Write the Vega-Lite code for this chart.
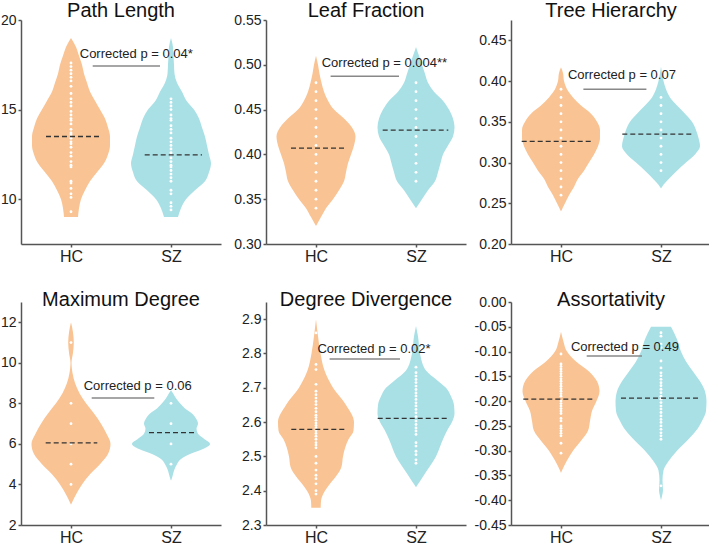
{
  "$schema": "https://vega.github.io/schema/vega-lite/v6.json",
  "padding": {"left": 0, "top": 0, "right": 0, "bottom": 0},
  "bounds": "flush",
  "columns": 3,
  "spacing": {"row": 58, "column": 45},
  "config": {
    "view": {"stroke": null},
    "font": "Liberation Sans",
    "axis": {"domainColor": "#555", "domainWidth": 1.5, "tickColor": "#555", "tickWidth": 1.5, "tickSize": 3, "labelFont": "Liberation Sans", "labelFontSize": 14, "labelColor": "#222", "grid": false, "labelPadding": 2, "title": null},
    "axisX": {"labelFontSize": 16, "labelPadding": 1},
    "title": {"font": "Liberation Sans", "fontSize": 20, "fontWeight": "normal", "color": "#111", "baseline": "alphabetic", "offset": 3}
  },
  "datasets": {
    "violin": [
      {"p":"PL","g":"HC","v":19,"w":0},{"p":"PL","g":"HC","v":18.5,"w":0.05},{"p":"PL","g":"HC","v":18,"w":0.08},{"p":"PL","g":"HC","v":17.5,"w":0.11},{"p":"PL","g":"HC","v":17,"w":0.13},{"p":"PL","g":"HC","v":16.5,"w":0.16},{"p":"PL","g":"HC","v":16,"w":0.19},{"p":"PL","g":"HC","v":15.5,"w":0.24},{"p":"PL","g":"HC","v":15,"w":0.29},{"p":"PL","g":"HC","v":14.5,"w":0.34},{"p":"PL","g":"HC","v":14,"w":0.37},{"p":"PL","g":"HC","v":13.5,"w":0.39},{"p":"PL","g":"HC","v":13,"w":0.39},{"p":"PL","g":"HC","v":12.5,"w":0.37},{"p":"PL","g":"HC","v":12,"w":0.33},{"p":"PL","g":"HC","v":11.5,"w":0.26},{"p":"PL","g":"HC","v":11,"w":0.19},{"p":"PL","g":"HC","v":10.5,"w":0.14},{"p":"PL","g":"HC","v":10,"w":0.1},{"p":"PL","g":"HC","v":9.5,"w":0.08},{"p":"PL","g":"HC","v":9,"w":0.07},
      {"p":"PL","g":"SZ","v":19,"w":0},{"p":"PL","g":"SZ","v":18.5,"w":0.02},{"p":"PL","g":"SZ","v":18,"w":0.025},{"p":"PL","g":"SZ","v":17.5,"w":0.03},{"p":"PL","g":"SZ","v":17,"w":0.035},{"p":"PL","g":"SZ","v":16.5,"w":0.06},{"p":"PL","g":"SZ","v":16,"w":0.11},{"p":"PL","g":"SZ","v":15.5,"w":0.155},{"p":"PL","g":"SZ","v":15,"w":0.23},{"p":"PL","g":"SZ","v":14.5,"w":0.28},{"p":"PL","g":"SZ","v":14,"w":0.31},{"p":"PL","g":"SZ","v":13.5,"w":0.34},{"p":"PL","g":"SZ","v":13,"w":0.36},{"p":"PL","g":"SZ","v":12.5,"w":0.38},{"p":"PL","g":"SZ","v":12,"w":0.4},{"p":"PL","g":"SZ","v":11.5,"w":0.38},{"p":"PL","g":"SZ","v":11,"w":0.34},{"p":"PL","g":"SZ","v":10.5,"w":0.24},{"p":"PL","g":"SZ","v":10,"w":0.15},{"p":"PL","g":"SZ","v":9.5,"w":0.1},{"p":"PL","g":"SZ","v":9,"w":0.07},
      {"p":"LF","g":"HC","v":0.51,"w":0},{"p":"LF","g":"HC","v":0.5,"w":0.02},{"p":"LF","g":"HC","v":0.49,"w":0.035},{"p":"LF","g":"HC","v":0.48,"w":0.055},{"p":"LF","g":"HC","v":0.47,"w":0.08},{"p":"LF","g":"HC","v":0.46,"w":0.12},{"p":"LF","g":"HC","v":0.45,"w":0.18},{"p":"LF","g":"HC","v":0.44,"w":0.28},{"p":"LF","g":"HC","v":0.43,"w":0.36},{"p":"LF","g":"HC","v":0.42,"w":0.395},{"p":"LF","g":"HC","v":0.41,"w":0.38},{"p":"LF","g":"HC","v":0.4,"w":0.35},{"p":"LF","g":"HC","v":0.39,"w":0.32},{"p":"LF","g":"HC","v":0.38,"w":0.3},{"p":"LF","g":"HC","v":0.37,"w":0.28},{"p":"LF","g":"HC","v":0.36,"w":0.23},{"p":"LF","g":"HC","v":0.35,"w":0.17},{"p":"LF","g":"HC","v":0.34,"w":0.1},{"p":"LF","g":"HC","v":0.33,"w":0.05},{"p":"LF","g":"HC","v":0.32,"w":0},
      {"p":"LF","g":"SZ","v":0.52,"w":0},{"p":"LF","g":"SZ","v":0.51,"w":0.03},{"p":"LF","g":"SZ","v":0.5,"w":0.06},{"p":"LF","g":"SZ","v":0.49,"w":0.09},{"p":"LF","g":"SZ","v":0.48,"w":0.12},{"p":"LF","g":"SZ","v":0.47,"w":0.18},{"p":"LF","g":"SZ","v":0.46,"w":0.27},{"p":"LF","g":"SZ","v":0.45,"w":0.33},{"p":"LF","g":"SZ","v":0.44,"w":0.37},{"p":"LF","g":"SZ","v":0.43,"w":0.385},{"p":"LF","g":"SZ","v":0.42,"w":0.37},{"p":"LF","g":"SZ","v":0.41,"w":0.32},{"p":"LF","g":"SZ","v":0.4,"w":0.27},{"p":"LF","g":"SZ","v":0.39,"w":0.245},{"p":"LF","g":"SZ","v":0.38,"w":0.22},{"p":"LF","g":"SZ","v":0.37,"w":0.19},{"p":"LF","g":"SZ","v":0.36,"w":0.12},{"p":"LF","g":"SZ","v":0.35,"w":0.06},{"p":"LF","g":"SZ","v":0.34,"w":0},
      {"p":"TH","g":"HC","v":0.417,"w":0},{"p":"TH","g":"HC","v":0.41,"w":0.02},{"p":"TH","g":"HC","v":0.4,"w":0.03},{"p":"TH","g":"HC","v":0.39,"w":0.06},{"p":"TH","g":"HC","v":0.38,"w":0.12},{"p":"TH","g":"HC","v":0.37,"w":0.2},{"p":"TH","g":"HC","v":0.36,"w":0.3},{"p":"TH","g":"HC","v":0.35,"w":0.36},{"p":"TH","g":"HC","v":0.34,"w":0.39},{"p":"TH","g":"HC","v":0.33,"w":0.39},{"p":"TH","g":"HC","v":0.32,"w":0.37},{"p":"TH","g":"HC","v":0.31,"w":0.33},{"p":"TH","g":"HC","v":0.3,"w":0.28},{"p":"TH","g":"HC","v":0.29,"w":0.23},{"p":"TH","g":"HC","v":0.28,"w":0.17},{"p":"TH","g":"HC","v":0.27,"w":0.13},{"p":"TH","g":"HC","v":0.26,"w":0.08},{"p":"TH","g":"HC","v":0.25,"w":0.04},{"p":"TH","g":"HC","v":0.24,"w":0},
      {"p":"TH","g":"SZ","v":0.418,"w":0},{"p":"TH","g":"SZ","v":0.41,"w":0.01},{"p":"TH","g":"SZ","v":0.4,"w":0.025},{"p":"TH","g":"SZ","v":0.39,"w":0.05},{"p":"TH","g":"SZ","v":0.38,"w":0.09},{"p":"TH","g":"SZ","v":0.37,"w":0.16},{"p":"TH","g":"SZ","v":0.36,"w":0.24},{"p":"TH","g":"SZ","v":0.35,"w":0.31},{"p":"TH","g":"SZ","v":0.34,"w":0.35},{"p":"TH","g":"SZ","v":0.33,"w":0.375},{"p":"TH","g":"SZ","v":0.32,"w":0.39},{"p":"TH","g":"SZ","v":0.31,"w":0.34},{"p":"TH","g":"SZ","v":0.3,"w":0.25},{"p":"TH","g":"SZ","v":0.29,"w":0.16},{"p":"TH","g":"SZ","v":0.28,"w":0.08},{"p":"TH","g":"SZ","v":0.27,"w":0.01},{"p":"TH","g":"SZ","v":0.268,"w":0},
      {"p":"MD","g":"HC","v":12,"w":0},{"p":"MD","g":"HC","v":11.5,"w":0.02},{"p":"MD","g":"HC","v":11,"w":0.028},{"p":"MD","g":"HC","v":10.5,"w":0.02},{"p":"MD","g":"HC","v":10,"w":0.005},{"p":"MD","g":"HC","v":9.75,"w":0.008},{"p":"MD","g":"HC","v":9.5,"w":0.015},{"p":"MD","g":"HC","v":9,"w":0.04},{"p":"MD","g":"HC","v":8.5,"w":0.085},{"p":"MD","g":"HC","v":8,"w":0.15},{"p":"MD","g":"HC","v":7.5,"w":0.23},{"p":"MD","g":"HC","v":7,"w":0.3},{"p":"MD","g":"HC","v":6.5,"w":0.355},{"p":"MD","g":"HC","v":6,"w":0.395},{"p":"MD","g":"HC","v":5.5,"w":0.37},{"p":"MD","g":"HC","v":5,"w":0.29},{"p":"MD","g":"HC","v":4.5,"w":0.19},{"p":"MD","g":"HC","v":4,"w":0.11},{"p":"MD","g":"HC","v":3.5,"w":0.05},{"p":"MD","g":"HC","v":3,"w":0},
      {"p":"MD","g":"SZ","v":8.65,"w":0},{"p":"MD","g":"SZ","v":8.5,"w":0.02},{"p":"MD","g":"SZ","v":8.25,"w":0.05},{"p":"MD","g":"SZ","v":8,"w":0.09},{"p":"MD","g":"SZ","v":7.75,"w":0.14},{"p":"MD","g":"SZ","v":7.5,"w":0.21},{"p":"MD","g":"SZ","v":7.25,"w":0.25},{"p":"MD","g":"SZ","v":7,"w":0.27},{"p":"MD","g":"SZ","v":6.75,"w":0.255},{"p":"MD","g":"SZ","v":6.5,"w":0.27},{"p":"MD","g":"SZ","v":6.25,"w":0.33},{"p":"MD","g":"SZ","v":6,"w":0.39},{"p":"MD","g":"SZ","v":5.75,"w":0.32},{"p":"MD","g":"SZ","v":5.5,"w":0.19},{"p":"MD","g":"SZ","v":5.25,"w":0.1},{"p":"MD","g":"SZ","v":5,"w":0.06},{"p":"MD","g":"SZ","v":4.75,"w":0.035},{"p":"MD","g":"SZ","v":4.5,"w":0.02},{"p":"MD","g":"SZ","v":4.25,"w":0.005},{"p":"MD","g":"SZ","v":4.2,"w":0},
      {"p":"DD","g":"HC","v":2.9,"w":0},{"p":"DD","g":"HC","v":2.85,"w":0.02},{"p":"DD","g":"HC","v":2.8,"w":0.045},{"p":"DD","g":"HC","v":2.75,"w":0.085},{"p":"DD","g":"HC","v":2.7,"w":0.17},{"p":"DD","g":"HC","v":2.65,"w":0.3},{"p":"DD","g":"HC","v":2.6,"w":0.38},{"p":"DD","g":"HC","v":2.575,"w":0.375},{"p":"DD","g":"HC","v":2.55,"w":0.325},{"p":"DD","g":"HC","v":2.5,"w":0.27},{"p":"DD","g":"HC","v":2.47,"w":0.255},{"p":"DD","g":"HC","v":2.45,"w":0.22},{"p":"DD","g":"HC","v":2.42,"w":0.14},{"p":"DD","g":"HC","v":2.4,"w":0.09},{"p":"DD","g":"HC","v":2.37,"w":0.05},{"p":"DD","g":"HC","v":2.35,"w":0.047},
      {"p":"DD","g":"SZ","v":2.88,"w":0},{"p":"DD","g":"SZ","v":2.85,"w":0.02},{"p":"DD","g":"SZ","v":2.8,"w":0.04},{"p":"DD","g":"SZ","v":2.75,"w":0.1},{"p":"DD","g":"SZ","v":2.72,"w":0.22},{"p":"DD","g":"SZ","v":2.7,"w":0.3},{"p":"DD","g":"SZ","v":2.675,"w":0.35},{"p":"DD","g":"SZ","v":2.65,"w":0.38},{"p":"DD","g":"SZ","v":2.625,"w":0.385},{"p":"DD","g":"SZ","v":2.6,"w":0.36},{"p":"DD","g":"SZ","v":2.575,"w":0.31},{"p":"DD","g":"SZ","v":2.55,"w":0.27},{"p":"DD","g":"SZ","v":2.5,"w":0.2},{"p":"DD","g":"SZ","v":2.45,"w":0.09},{"p":"DD","g":"SZ","v":2.425,"w":0.035},{"p":"DD","g":"SZ","v":2.41,"w":0},
      {"p":"AS","g":"HC","v":-0.06,"w":0},{"p":"AS","g":"HC","v":-0.08,"w":0.025},{"p":"AS","g":"HC","v":-0.1,"w":0.06},{"p":"AS","g":"HC","v":-0.12,"w":0.15},{"p":"AS","g":"HC","v":-0.14,"w":0.28},{"p":"AS","g":"HC","v":-0.16,"w":0.36},{"p":"AS","g":"HC","v":-0.18,"w":0.385},{"p":"AS","g":"HC","v":-0.2,"w":0.355},{"p":"AS","g":"HC","v":-0.22,"w":0.31},{"p":"AS","g":"HC","v":-0.24,"w":0.29},{"p":"AS","g":"HC","v":-0.26,"w":0.27},{"p":"AS","g":"HC","v":-0.28,"w":0.2},{"p":"AS","g":"HC","v":-0.3,"w":0.12},{"p":"AS","g":"HC","v":-0.32,"w":0.06},{"p":"AS","g":"HC","v":-0.34,"w":0.01},{"p":"AS","g":"HC","v":-0.345,"w":0},
      {"p":"AS","g":"SZ","v":-0.05,"w":0.1},{"p":"AS","g":"SZ","v":-0.075,"w":0.16},{"p":"AS","g":"SZ","v":-0.1,"w":0.2},{"p":"AS","g":"SZ","v":-0.12,"w":0.25},{"p":"AS","g":"SZ","v":-0.14,"w":0.32},{"p":"AS","g":"SZ","v":-0.16,"w":0.39},{"p":"AS","g":"SZ","v":-0.18,"w":0.44},{"p":"AS","g":"SZ","v":-0.2,"w":0.455},{"p":"AS","g":"SZ","v":-0.22,"w":0.45},{"p":"AS","g":"SZ","v":-0.24,"w":0.41},{"p":"AS","g":"SZ","v":-0.26,"w":0.35},{"p":"AS","g":"SZ","v":-0.28,"w":0.26},{"p":"AS","g":"SZ","v":-0.3,"w":0.16},{"p":"AS","g":"SZ","v":-0.32,"w":0.08},{"p":"AS","g":"SZ","v":-0.34,"w":0.025},{"p":"AS","g":"SZ","v":-0.36,"w":0.015},{"p":"AS","g":"SZ","v":-0.38,"w":0.02},{"p":"AS","g":"SZ","v":-0.39,"w":0.012},{"p":"AS","g":"SZ","v":-0.4,"w":0}
    ],
    "dots": [
      {"p":"PL","g":"HC","v":17.6},{"p":"PL","g":"HC","v":17.4},{"p":"PL","g":"HC","v":17.2},{"p":"PL","g":"HC","v":17.0},{"p":"PL","g":"HC","v":16.8},{"p":"PL","g":"HC","v":16.6},{"p":"PL","g":"HC","v":16.3},{"p":"PL","g":"HC","v":15.9},{"p":"PL","g":"HC","v":15.6},{"p":"PL","g":"HC","v":15.4},{"p":"PL","g":"HC","v":15.2},{"p":"PL","g":"HC","v":14.9},{"p":"PL","g":"HC","v":14.7},{"p":"PL","g":"HC","v":14.5},{"p":"PL","g":"HC","v":14.4},{"p":"PL","g":"HC","v":14.2},{"p":"PL","g":"HC","v":13.9},{"p":"PL","g":"HC","v":13.7},{"p":"PL","g":"HC","v":13.6},{"p":"PL","g":"HC","v":13.4},{"p":"PL","g":"HC","v":13.2},{"p":"PL","g":"HC","v":13.1},{"p":"PL","g":"HC","v":12.9},{"p":"PL","g":"HC","v":12.6},{"p":"PL","g":"HC","v":12.4},{"p":"PL","g":"HC","v":12.1},{"p":"PL","g":"HC","v":11.9},{"p":"PL","g":"HC","v":11.8},{"p":"PL","g":"HC","v":11.0},{"p":"PL","g":"HC","v":10.9},{"p":"PL","g":"HC","v":10.6},{"p":"PL","g":"HC","v":10.3},{"p":"PL","g":"HC","v":10.1},{"p":"PL","g":"HC","v":9.3},
      {"p":"PL","g":"SZ","v":15.6},{"p":"PL","g":"SZ","v":15.4},{"p":"PL","g":"SZ","v":15.2},{"p":"PL","g":"SZ","v":15.0},{"p":"PL","g":"SZ","v":14.7},{"p":"PL","g":"SZ","v":14.5},{"p":"PL","g":"SZ","v":14.4},{"p":"PL","g":"SZ","v":14.1},{"p":"PL","g":"SZ","v":13.9},{"p":"PL","g":"SZ","v":13.7},{"p":"PL","g":"SZ","v":13.4},{"p":"PL","g":"SZ","v":13.2},{"p":"PL","g":"SZ","v":13.0},{"p":"PL","g":"SZ","v":12.8},{"p":"PL","g":"SZ","v":12.6},{"p":"PL","g":"SZ","v":12.5},{"p":"PL","g":"SZ","v":12.3},{"p":"PL","g":"SZ","v":12.1},{"p":"PL","g":"SZ","v":11.9},{"p":"PL","g":"SZ","v":11.8},{"p":"PL","g":"SZ","v":11.6},{"p":"PL","g":"SZ","v":11.4},{"p":"PL","g":"SZ","v":11.2},{"p":"PL","g":"SZ","v":11.0},{"p":"PL","g":"SZ","v":10.5},{"p":"PL","g":"SZ","v":10.3},{"p":"PL","g":"SZ","v":9.8},{"p":"PL","g":"SZ","v":9.6},{"p":"PL","g":"SZ","v":9.4},
      {"p":"LF","g":"HC","v":0.34},{"p":"LF","g":"HC","v":0.35},{"p":"LF","g":"HC","v":0.36},{"p":"LF","g":"HC","v":0.37},{"p":"LF","g":"HC","v":0.38},{"p":"LF","g":"HC","v":0.39},{"p":"LF","g":"HC","v":0.40},{"p":"LF","g":"HC","v":0.41},{"p":"LF","g":"HC","v":0.42},{"p":"LF","g":"HC","v":0.43},{"p":"LF","g":"HC","v":0.44},{"p":"LF","g":"HC","v":0.45},{"p":"LF","g":"HC","v":0.46},{"p":"LF","g":"HC","v":0.47},{"p":"LF","g":"HC","v":0.48},
      {"p":"LF","g":"SZ","v":0.37},{"p":"LF","g":"SZ","v":0.38},{"p":"LF","g":"SZ","v":0.39},{"p":"LF","g":"SZ","v":0.40},{"p":"LF","g":"SZ","v":0.41},{"p":"LF","g":"SZ","v":0.42},{"p":"LF","g":"SZ","v":0.43},{"p":"LF","g":"SZ","v":0.44},{"p":"LF","g":"SZ","v":0.45},{"p":"LF","g":"SZ","v":0.46},{"p":"LF","g":"SZ","v":0.47},{"p":"LF","g":"SZ","v":0.48},
      {"p":"TH","g":"HC","v":0.26},{"p":"TH","g":"HC","v":0.27},{"p":"TH","g":"HC","v":0.28},{"p":"TH","g":"HC","v":0.29},{"p":"TH","g":"HC","v":0.30},{"p":"TH","g":"HC","v":0.31},{"p":"TH","g":"HC","v":0.32},{"p":"TH","g":"HC","v":0.33},{"p":"TH","g":"HC","v":0.34},{"p":"TH","g":"HC","v":0.35},{"p":"TH","g":"HC","v":0.36},{"p":"TH","g":"HC","v":0.37},{"p":"TH","g":"HC","v":0.38},{"p":"TH","g":"HC","v":0.39},
      {"p":"TH","g":"SZ","v":0.29},{"p":"TH","g":"SZ","v":0.30},{"p":"TH","g":"SZ","v":0.31},{"p":"TH","g":"SZ","v":0.32},{"p":"TH","g":"SZ","v":0.33},{"p":"TH","g":"SZ","v":0.34},{"p":"TH","g":"SZ","v":0.35},{"p":"TH","g":"SZ","v":0.36},{"p":"TH","g":"SZ","v":0.37},{"p":"TH","g":"SZ","v":0.38},
      {"p":"MD","g":"HC","v":11},{"p":"MD","g":"HC","v":8},{"p":"MD","g":"HC","v":7},{"p":"MD","g":"HC","v":6},{"p":"MD","g":"HC","v":5},{"p":"MD","g":"HC","v":4},
      {"p":"MD","g":"SZ","v":8},{"p":"MD","g":"SZ","v":7},{"p":"MD","g":"SZ","v":6},{"p":"MD","g":"SZ","v":5},
      {"p":"DD","g":"HC","v":2.86},{"p":"DD","g":"HC","v":2.768},{"p":"DD","g":"HC","v":2.753},{"p":"DD","g":"HC","v":2.71},{"p":"DD","g":"HC","v":2.69},{"p":"DD","g":"HC","v":2.68},{"p":"DD","g":"HC","v":2.67},{"p":"DD","g":"HC","v":2.66},{"p":"DD","g":"HC","v":2.651},{"p":"DD","g":"HC","v":2.64},{"p":"DD","g":"HC","v":2.63},{"p":"DD","g":"HC","v":2.62},{"p":"DD","g":"HC","v":2.613},{"p":"DD","g":"HC","v":2.605},{"p":"DD","g":"HC","v":2.597},{"p":"DD","g":"HC","v":2.59},{"p":"DD","g":"HC","v":2.583},{"p":"DD","g":"HC","v":2.575},{"p":"DD","g":"HC","v":2.567},{"p":"DD","g":"HC","v":2.559},{"p":"DD","g":"HC","v":2.55},{"p":"DD","g":"HC","v":2.54},{"p":"DD","g":"HC","v":2.533},{"p":"DD","g":"HC","v":2.525},{"p":"DD","g":"HC","v":2.5},{"p":"DD","g":"HC","v":2.48},{"p":"DD","g":"HC","v":2.46},{"p":"DD","g":"HC","v":2.445},{"p":"DD","g":"HC","v":2.435},{"p":"DD","g":"HC","v":2.42},{"p":"DD","g":"HC","v":2.4},{"p":"DD","g":"HC","v":2.39},
      {"p":"DD","g":"SZ","v":2.76},{"p":"DD","g":"SZ","v":2.744},{"p":"DD","g":"SZ","v":2.734},{"p":"DD","g":"SZ","v":2.724},{"p":"DD","g":"SZ","v":2.715},{"p":"DD","g":"SZ","v":2.705},{"p":"DD","g":"SZ","v":2.695},{"p":"DD","g":"SZ","v":2.685},{"p":"DD","g":"SZ","v":2.676},{"p":"DD","g":"SZ","v":2.666},{"p":"DD","g":"SZ","v":2.656},{"p":"DD","g":"SZ","v":2.647},{"p":"DD","g":"SZ","v":2.637},{"p":"DD","g":"SZ","v":2.627},{"p":"DD","g":"SZ","v":2.616},{"p":"DD","g":"SZ","v":2.603},{"p":"DD","g":"SZ","v":2.593},{"p":"DD","g":"SZ","v":2.583},{"p":"DD","g":"SZ","v":2.574},{"p":"DD","g":"SZ","v":2.564},{"p":"DD","g":"SZ","v":2.54},{"p":"DD","g":"SZ","v":2.53},{"p":"DD","g":"SZ","v":2.515},{"p":"DD","g":"SZ","v":2.505},{"p":"DD","g":"SZ","v":2.49},{"p":"DD","g":"SZ","v":2.48},
      {"p":"AS","g":"HC","v":-0.105},{"p":"AS","g":"HC","v":-0.125},{"p":"AS","g":"HC","v":-0.13},{"p":"AS","g":"HC","v":-0.135},{"p":"AS","g":"HC","v":-0.14},{"p":"AS","g":"HC","v":-0.145},{"p":"AS","g":"HC","v":-0.15},{"p":"AS","g":"HC","v":-0.155},{"p":"AS","g":"HC","v":-0.16},{"p":"AS","g":"HC","v":-0.165},{"p":"AS","g":"HC","v":-0.17},{"p":"AS","g":"HC","v":-0.175},{"p":"AS","g":"HC","v":-0.18},{"p":"AS","g":"HC","v":-0.185},{"p":"AS","g":"HC","v":-0.19},{"p":"AS","g":"HC","v":-0.2},{"p":"AS","g":"HC","v":-0.205},{"p":"AS","g":"HC","v":-0.21},{"p":"AS","g":"HC","v":-0.215},{"p":"AS","g":"HC","v":-0.22},{"p":"AS","g":"HC","v":-0.225},{"p":"AS","g":"HC","v":-0.235},{"p":"AS","g":"HC","v":-0.24},{"p":"AS","g":"HC","v":-0.25},{"p":"AS","g":"HC","v":-0.255},{"p":"AS","g":"HC","v":-0.26},{"p":"AS","g":"HC","v":-0.265},{"p":"AS","g":"HC","v":-0.27},{"p":"AS","g":"HC","v":-0.285},{"p":"AS","g":"HC","v":-0.305},
      {"p":"AS","g":"SZ","v":-0.062},{"p":"AS","g":"SZ","v":-0.069},{"p":"AS","g":"SZ","v":-0.085},{"p":"AS","g":"SZ","v":-0.092},{"p":"AS","g":"SZ","v":-0.119},{"p":"AS","g":"SZ","v":-0.133},{"p":"AS","g":"SZ","v":-0.143},{"p":"AS","g":"SZ","v":-0.149},{"p":"AS","g":"SZ","v":-0.156},{"p":"AS","g":"SZ","v":-0.163},{"p":"AS","g":"SZ","v":-0.169},{"p":"AS","g":"SZ","v":-0.176},{"p":"AS","g":"SZ","v":-0.183},{"p":"AS","g":"SZ","v":-0.19},{"p":"AS","g":"SZ","v":-0.196},{"p":"AS","g":"SZ","v":-0.203},{"p":"AS","g":"SZ","v":-0.21},{"p":"AS","g":"SZ","v":-0.216},{"p":"AS","g":"SZ","v":-0.223},{"p":"AS","g":"SZ","v":-0.23},{"p":"AS","g":"SZ","v":-0.237},{"p":"AS","g":"SZ","v":-0.243},{"p":"AS","g":"SZ","v":-0.25},{"p":"AS","g":"SZ","v":-0.257},{"p":"AS","g":"SZ","v":-0.264},{"p":"AS","g":"SZ","v":-0.27},{"p":"AS","g":"SZ","v":-0.277},{"p":"AS","g":"SZ","v":-0.371}
    ],
    "med": [
      {"p":"PL","g":"HC","v":13.5,"a":-0.25,"b":0.31},{"p":"PL","g":"SZ","v":12.47,"a":-0.263,"b":0.31},
      {"p":"LF","g":"HC","v":0.407,"a":-0.25,"b":0.307},{"p":"LF","g":"SZ","v":0.427,"a":-0.333,"b":0.323},
      {"p":"TH","g":"HC","v":0.326,"a":-0.393,"b":0.313},{"p":"TH","g":"SZ","v":0.335,"a":-0.387,"b":0.313},
      {"p":"MD","g":"HC","v":6.05,"a":-0.253,"b":0.263},{"p":"MD","g":"SZ","v":6.56,"a":-0.22,"b":0.247},
      {"p":"DD","g":"HC","v":2.579,"a":-0.247,"b":0.31},{"p":"DD","g":"SZ","v":2.611,"a":-0.383,"b":0.323},
      {"p":"AS","g":"HC","v":-0.196,"a":-0.377,"b":0.313},{"p":"AS","g":"SZ","v":-0.194,"a":-0.4,"b":0.4}
    ],
    "annt": [
      {"p":"PL","x":1.653,"v":17.86,"label":"Corrected p = 0.04*"},
      {"p":"LF","x":1.684,"v":0.498,"label":"Corrected p = 0.004**"},
      {"p":"TH","x":1.609,"v":0.403,"label":"Corrected p = 0.07"},
      {"p":"MD","x":1.667,"v":8.64,"label":"Corrected p = 0.06"},
      {"p":"DD","x":1.58,"v":2.802,"label":"Corrected p = 0.02*"},
      {"p":"AS","x":1.639,"v":-0.099,"label":"Corrected p = 0.49"}
    ],
    "annl": [
      {"p":"PL","x":1.217,"x2":1.89,"v":17.43},
      {"p":"LF","x":1.146,"x2":1.83,"v":0.4872},
      {"p":"TH","x":1.224,"x2":1.854,"v":0.39},
      {"p":"MD","x":1.207,"x2":1.833,"v":8.26},
      {"p":"DD","x":1.136,"x2":1.84,"v":2.784},
      {"p":"AS","x":1.257,"x2":1.81,"v":-0.109}
    ]
  },
  "concat": [
    {
      "width": 200, "height": 224,
      "title": {"text": "Path Length", "offset": -7.7},
      "encoding": {
        "x": {"field": "x", "type": "quantitative", "stack": null, "scale": {"domain": [0.5, 2.5], "nice": false, "zero": false}, "axis": {"values": [1, 2], "labelExpr": "datum.value == 1 ? 'HC' : 'SZ'"}},
        "y": {"field": "v", "type": "quantitative", "scale": {"domain": [7.5, 20], "nice": false, "zero": false}, "axis": {"values": [10, 15, 20], "format": "d"}}
      },
      "layer": [
        {"data": {"name": "violin"}, "transform": [{"filter": "datum.p == 'PL'"}, {"calculate": "(datum.g == 'HC' ? 1 : 2) - datum.w", "as": "x"}, {"calculate": "(datum.g == 'HC' ? 1 : 2) + datum.w", "as": "x2"}], "mark": {"type": "area", "orient": "horizontal", "interpolate": "monotone", "opacity": 1}, "encoding": {"x2": {"field": "x2"}, "color": {"field": "g", "type": "nominal", "scale": {"domain": ["HC", "SZ"], "range": ["#F9C393", "#A9E0E6"]}, "legend": null}}},
        {"data": {"name": "dots"}, "transform": [{"filter": "datum.p == 'PL'"}, {"calculate": "datum.g == 'HC' ? 1 : 2", "as": "x"}], "mark": {"type": "circle", "size": 8, "color": "white", "opacity": 1}},
        {"data": {"name": "med"}, "transform": [{"filter": "datum.p == 'PL'"}, {"calculate": "(datum.g == 'HC' ? 1 : 2) + datum.a", "as": "x"}, {"calculate": "(datum.g == 'HC' ? 1 : 2) + datum.b", "as": "x2"}], "mark": {"type": "rule", "color": "#333", "strokeWidth": 1.3, "strokeDash": [5, 3]}, "encoding": {"x2": {"field": "x2"}}},
        {"data": {"name": "annl"}, "transform": [{"filter": "datum.p == 'PL'"}], "mark": {"type": "rule", "color": "#888", "strokeWidth": 1.5}, "encoding": {"x2": {"field": "x2"}}},
        {"data": {"name": "annt"}, "transform": [{"filter": "datum.p == 'PL'"}], "mark": {"type": "text", "fontSize": 13, "color": "#222", "align": "center", "baseline": "alphabetic"}, "encoding": {"text": {"field": "label"}}}
      ]
    },
    {
      "width": 200, "height": 224,
      "title": {"text": "Leaf Fraction", "offset": -7.7},
      "encoding": {
        "x": {"field": "x", "type": "quantitative", "stack": null, "scale": {"domain": [0.5, 2.5], "nice": false, "zero": false}, "axis": {"values": [1, 2], "labelExpr": "datum.value == 1 ? 'HC' : 'SZ'"}},
        "y": {"field": "v", "type": "quantitative", "scale": {"domain": [0.3, 0.55], "nice": false, "zero": false}, "axis": {"values": [0.3, 0.35, 0.4, 0.45, 0.5, 0.55], "format": ".2f"}}
      },
      "layer": [
        {"data": {"name": "violin"}, "transform": [{"filter": "datum.p == 'LF'"}, {"calculate": "(datum.g == 'HC' ? 1 : 2) - datum.w", "as": "x"}, {"calculate": "(datum.g == 'HC' ? 1 : 2) + datum.w", "as": "x2"}], "mark": {"type": "area", "orient": "horizontal", "interpolate": "monotone", "opacity": 1}, "encoding": {"x2": {"field": "x2"}, "color": {"field": "g", "type": "nominal", "scale": {"domain": ["HC", "SZ"], "range": ["#F9C393", "#A9E0E6"]}, "legend": null}}},
        {"data": {"name": "dots"}, "transform": [{"filter": "datum.p == 'LF'"}, {"calculate": "datum.g == 'HC' ? 1 : 2", "as": "x"}], "mark": {"type": "circle", "size": 8, "color": "white", "opacity": 1}},
        {"data": {"name": "med"}, "transform": [{"filter": "datum.p == 'LF'"}, {"calculate": "(datum.g == 'HC' ? 1 : 2) + datum.a", "as": "x"}, {"calculate": "(datum.g == 'HC' ? 1 : 2) + datum.b", "as": "x2"}], "mark": {"type": "rule", "color": "#333", "strokeWidth": 1.3, "strokeDash": [5, 3]}, "encoding": {"x2": {"field": "x2"}}},
        {"data": {"name": "annl"}, "transform": [{"filter": "datum.p == 'LF'"}], "mark": {"type": "rule", "color": "#888", "strokeWidth": 1.5}, "encoding": {"x2": {"field": "x2"}}},
        {"data": {"name": "annt"}, "transform": [{"filter": "datum.p == 'LF'"}], "mark": {"type": "text", "fontSize": 13, "color": "#222", "align": "center", "baseline": "alphabetic"}, "encoding": {"text": {"field": "label"}}}
      ]
    },
    {
      "width": 200, "height": 224,
      "title": {"text": "Tree Hierarchy", "offset": -0.7},
      "encoding": {
        "x": {"field": "x", "type": "quantitative", "stack": null, "scale": {"domain": [0.5, 2.5], "nice": false, "zero": false}, "axis": {"values": [1, 2], "labelExpr": "datum.value == 1 ? 'HC' : 'SZ'"}},
        "y": {"field": "v", "type": "quantitative", "scale": {"domain": [0.2, 0.475], "nice": false, "zero": false}, "axis": {"values": [0.2, 0.25, 0.3, 0.35, 0.4, 0.45], "format": ".2f"}}
      },
      "layer": [
        {"data": {"name": "violin"}, "transform": [{"filter": "datum.p == 'TH'"}, {"calculate": "(datum.g == 'HC' ? 1 : 2) - datum.w", "as": "x"}, {"calculate": "(datum.g == 'HC' ? 1 : 2) + datum.w", "as": "x2"}], "mark": {"type": "area", "orient": "horizontal", "interpolate": "monotone", "opacity": 1}, "encoding": {"x2": {"field": "x2"}, "color": {"field": "g", "type": "nominal", "scale": {"domain": ["HC", "SZ"], "range": ["#F9C393", "#A9E0E6"]}, "legend": null}}},
        {"data": {"name": "dots"}, "transform": [{"filter": "datum.p == 'TH'"}, {"calculate": "datum.g == 'HC' ? 1 : 2", "as": "x"}], "mark": {"type": "circle", "size": 8, "color": "white", "opacity": 1}},
        {"data": {"name": "med"}, "transform": [{"filter": "datum.p == 'TH'"}, {"calculate": "(datum.g == 'HC' ? 1 : 2) + datum.a", "as": "x"}, {"calculate": "(datum.g == 'HC' ? 1 : 2) + datum.b", "as": "x2"}], "mark": {"type": "rule", "color": "#333", "strokeWidth": 1.3, "strokeDash": [5, 3]}, "encoding": {"x2": {"field": "x2"}}},
        {"data": {"name": "annl"}, "transform": [{"filter": "datum.p == 'TH'"}], "mark": {"type": "rule", "color": "#888", "strokeWidth": 1.5}, "encoding": {"x2": {"field": "x2"}}},
        {"data": {"name": "annt"}, "transform": [{"filter": "datum.p == 'TH'"}], "mark": {"type": "text", "fontSize": 13, "color": "#222", "align": "center", "baseline": "alphabetic"}, "encoding": {"text": {"field": "label"}}}
      ]
    },
    {
      "width": 200, "height": 223,
      "title": {"text": "Maximum Degree", "offset": -7.7},
      "encoding": {
        "x": {"field": "x", "type": "quantitative", "stack": null, "scale": {"domain": [0.5, 2.5], "nice": false, "zero": false}, "axis": {"values": [1, 2], "labelExpr": "datum.value == 1 ? 'HC' : 'SZ'"}},
        "y": {"field": "v", "type": "quantitative", "scale": {"domain": [2, 13], "nice": false, "zero": false}, "axis": {"values": [2, 4, 6, 8, 10, 12], "format": "d"}}
      },
      "layer": [
        {"data": {"name": "violin"}, "transform": [{"filter": "datum.p == 'MD'"}, {"calculate": "(datum.g == 'HC' ? 1 : 2) - datum.w", "as": "x"}, {"calculate": "(datum.g == 'HC' ? 1 : 2) + datum.w", "as": "x2"}], "mark": {"type": "area", "orient": "horizontal", "interpolate": "monotone", "opacity": 1}, "encoding": {"x2": {"field": "x2"}, "color": {"field": "g", "type": "nominal", "scale": {"domain": ["HC", "SZ"], "range": ["#F9C393", "#A9E0E6"]}, "legend": null}}},
        {"data": {"name": "dots"}, "transform": [{"filter": "datum.p == 'MD'"}, {"calculate": "datum.g == 'HC' ? 1 : 2", "as": "x"}], "mark": {"type": "circle", "size": 8, "color": "white", "opacity": 1}},
        {"data": {"name": "med"}, "transform": [{"filter": "datum.p == 'MD'"}, {"calculate": "(datum.g == 'HC' ? 1 : 2) + datum.a", "as": "x"}, {"calculate": "(datum.g == 'HC' ? 1 : 2) + datum.b", "as": "x2"}], "mark": {"type": "rule", "color": "#333", "strokeWidth": 1.3, "strokeDash": [5, 3]}, "encoding": {"x2": {"field": "x2"}}},
        {"data": {"name": "annl"}, "transform": [{"filter": "datum.p == 'MD'"}], "mark": {"type": "rule", "color": "#888", "strokeWidth": 1.5}, "encoding": {"x2": {"field": "x2"}}},
        {"data": {"name": "annt"}, "transform": [{"filter": "datum.p == 'MD'"}], "mark": {"type": "text", "fontSize": 13, "color": "#222", "align": "center", "baseline": "alphabetic"}, "encoding": {"text": {"field": "label"}}}
      ]
    },
    {
      "width": 200, "height": 223,
      "title": {"text": "Degree Divergence", "offset": -7.7},
      "encoding": {
        "x": {"field": "x", "type": "quantitative", "stack": null, "scale": {"domain": [0.5, 2.5], "nice": false, "zero": false}, "axis": {"values": [1, 2], "labelExpr": "datum.value == 1 ? 'HC' : 'SZ'"}},
        "y": {"field": "v", "type": "quantitative", "scale": {"domain": [2.3, 2.95], "nice": false, "zero": false}, "axis": {"values": [2.3, 2.4, 2.5, 2.6, 2.7, 2.8, 2.9], "format": ".1f"}}
      },
      "layer": [
        {"data": {"name": "violin"}, "transform": [{"filter": "datum.p == 'DD'"}, {"calculate": "(datum.g == 'HC' ? 1 : 2) - datum.w", "as": "x"}, {"calculate": "(datum.g == 'HC' ? 1 : 2) + datum.w", "as": "x2"}], "mark": {"type": "area", "orient": "horizontal", "interpolate": "monotone", "opacity": 1}, "encoding": {"x2": {"field": "x2"}, "color": {"field": "g", "type": "nominal", "scale": {"domain": ["HC", "SZ"], "range": ["#F9C393", "#A9E0E6"]}, "legend": null}}},
        {"data": {"name": "dots"}, "transform": [{"filter": "datum.p == 'DD'"}, {"calculate": "datum.g == 'HC' ? 1 : 2", "as": "x"}], "mark": {"type": "circle", "size": 8, "color": "white", "opacity": 1}},
        {"data": {"name": "med"}, "transform": [{"filter": "datum.p == 'DD'"}, {"calculate": "(datum.g == 'HC' ? 1 : 2) + datum.a", "as": "x"}, {"calculate": "(datum.g == 'HC' ? 1 : 2) + datum.b", "as": "x2"}], "mark": {"type": "rule", "color": "#333", "strokeWidth": 1.3, "strokeDash": [5, 3]}, "encoding": {"x2": {"field": "x2"}}},
        {"data": {"name": "annl"}, "transform": [{"filter": "datum.p == 'DD'"}], "mark": {"type": "rule", "color": "#888", "strokeWidth": 1.5}, "encoding": {"x2": {"field": "x2"}}},
        {"data": {"name": "annt"}, "transform": [{"filter": "datum.p == 'DD'"}], "mark": {"type": "text", "fontSize": 13, "color": "#222", "align": "center", "baseline": "alphabetic"}, "encoding": {"text": {"field": "label"}}}
      ]
    },
    {
      "width": 200, "height": 223,
      "title": {"text": "Assortativity", "offset": -14.7},
      "encoding": {
        "x": {"field": "x", "type": "quantitative", "stack": null, "scale": {"domain": [0.5, 2.5], "nice": false, "zero": false}, "axis": {"values": [1, 2], "labelExpr": "datum.value == 1 ? 'HC' : 'SZ'"}},
        "y": {"field": "v", "type": "quantitative", "scale": {"domain": [-0.45, 0], "nice": false, "zero": false}, "axis": {"values": [-0.45, -0.4, -0.35, -0.3, -0.25, -0.2, -0.15, -0.1, -0.05, 0], "labelExpr": "replace(format(datum.value, '.2f'), '\u2212', '-')"}}
      },
      "layer": [
        {"data": {"name": "violin"}, "transform": [{"filter": "datum.p == 'AS'"}, {"calculate": "(datum.g == 'HC' ? 1 : 2) - datum.w", "as": "x"}, {"calculate": "(datum.g == 'HC' ? 1 : 2) + datum.w", "as": "x2"}], "mark": {"type": "area", "orient": "horizontal", "interpolate": "monotone", "opacity": 1}, "encoding": {"x2": {"field": "x2"}, "color": {"field": "g", "type": "nominal", "scale": {"domain": ["HC", "SZ"], "range": ["#F9C393", "#A9E0E6"]}, "legend": null}}},
        {"data": {"name": "dots"}, "transform": [{"filter": "datum.p == 'AS'"}, {"calculate": "datum.g == 'HC' ? 1 : 2", "as": "x"}], "mark": {"type": "circle", "size": 8, "color": "white", "opacity": 1}},
        {"data": {"name": "med"}, "transform": [{"filter": "datum.p == 'AS'"}, {"calculate": "(datum.g == 'HC' ? 1 : 2) + datum.a", "as": "x"}, {"calculate": "(datum.g == 'HC' ? 1 : 2) + datum.b", "as": "x2"}], "mark": {"type": "rule", "color": "#333", "strokeWidth": 1.3, "strokeDash": [5, 3]}, "encoding": {"x2": {"field": "x2"}}},
        {"data": {"name": "annl"}, "transform": [{"filter": "datum.p == 'AS'"}], "mark": {"type": "rule", "color": "#888", "strokeWidth": 1.5}, "encoding": {"x2": {"field": "x2"}}},
        {"data": {"name": "annt"}, "transform": [{"filter": "datum.p == 'AS'"}], "mark": {"type": "text", "fontSize": 13, "color": "#222", "align": "center", "baseline": "alphabetic"}, "encoding": {"text": {"field": "label"}}}
      ]
    }
  ]
}
